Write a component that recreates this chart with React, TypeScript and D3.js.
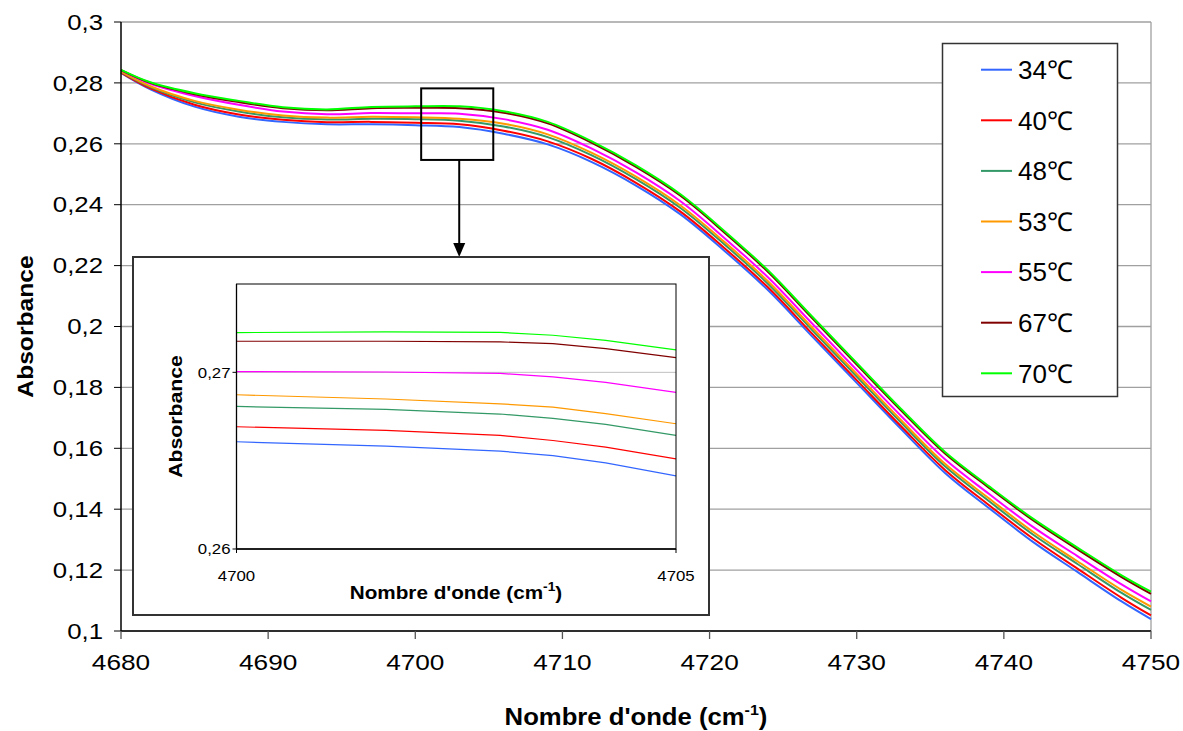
import React from "react";
import * as d3 from "d3";

// ---------- Data ----------
const WAVENUMBERS = [4680, 4682, 4685, 4688, 4691, 4694, 4697, 4700, 4703, 4706, 4709, 4712, 4715, 4718, 4721, 4724, 4727, 4730, 4733, 4736, 4739, 4742, 4745, 4748, 4750];

const ABS_34 = [0.2833, 0.2779, 0.2722, 0.2689, 0.2672, 0.2664, 0.2664, 0.2661, 0.2655, 0.2633, 0.2598, 0.2540, 0.2463, 0.2369, 0.2249, 0.2118, 0.1966, 0.1815, 0.1664, 0.1519, 0.1403, 0.1292, 0.1194, 0.1097, 0.1039];
const ABS_40 = [0.2834, 0.2782, 0.2728, 0.2696, 0.2679, 0.2671, 0.2672, 0.2669, 0.2664, 0.2643, 0.2608, 0.2550, 0.2472, 0.2378, 0.2258, 0.2127, 0.1975, 0.1824, 0.1673, 0.1529, 0.1413, 0.1303, 0.1205, 0.1109, 0.1051];
const ABS_48 = [0.2836, 0.2786, 0.2736, 0.2706, 0.2687, 0.2680, 0.2682, 0.2681, 0.2676, 0.2657, 0.2622, 0.2562, 0.2484, 0.2390, 0.2270, 0.2139, 0.1987, 0.1836, 0.1685, 0.1541, 0.1426, 0.1316, 0.1220, 0.1125, 0.1069];
const ABS_53 = [0.2837, 0.2789, 0.2741, 0.2712, 0.2693, 0.2686, 0.2689, 0.2687, 0.2682, 0.2666, 0.2631, 0.2570, 0.2492, 0.2398, 0.2278, 0.2147, 0.1995, 0.1844, 0.1693, 0.1549, 0.1435, 0.1325, 0.1229, 0.1135, 0.1080];
const ABS_55 = [0.2841, 0.2797, 0.2757, 0.2728, 0.2706, 0.2697, 0.2701, 0.2700, 0.2699, 0.2681, 0.2646, 0.2584, 0.2506, 0.2412, 0.2291, 0.2160, 0.2008, 0.1857, 0.1707, 0.1564, 0.1450, 0.1341, 0.1246, 0.1153, 0.1097];
const ABS_67 = [0.2842, 0.2800, 0.2763, 0.2737, 0.2717, 0.2710, 0.2717, 0.2718, 0.2717, 0.2702, 0.2667, 0.2603, 0.2524, 0.2430, 0.2309, 0.2178, 0.2026, 0.1875, 0.1725, 0.1583, 0.1470, 0.1363, 0.1268, 0.1177, 0.1122];
const ABS_70 = [0.2843, 0.2802, 0.2766, 0.2741, 0.2720, 0.2713, 0.2721, 0.2723, 0.2723, 0.2707, 0.2672, 0.2608, 0.2529, 0.2435, 0.2314, 0.2183, 0.2031, 0.1880, 0.1730, 0.1588, 0.1475, 0.1368, 0.1274, 0.1183, 0.1129];

const INSET_X = [4700, 4701.7, 4703, 4703.6, 4704.2, 4705];
const INSET_34 = [0.26607, 0.26582, 0.26554, 0.26529, 0.26488, 0.26414];
const INSET_40 = [0.26692, 0.26671, 0.26643, 0.26614, 0.26577, 0.26510];
const INSET_48 = [0.26807, 0.26790, 0.26764, 0.26739, 0.26705, 0.26643];
const INSET_53 = [0.26873, 0.26849, 0.26822, 0.26803, 0.26766, 0.26709];
const INSET_55 = [0.27004, 0.27002, 0.26994, 0.26974, 0.26943, 0.26887];
const INSET_67 = [0.27176, 0.27176, 0.27172, 0.27163, 0.27134, 0.27083];
const INSET_70 = [0.27225, 0.27229, 0.27226, 0.27210, 0.27181, 0.27127];

const LABELS = ["34℃", "40℃", "48℃", "53℃", "55℃", "67℃", "70℃"];
const COLORS = ["#3366FF", "#FF0000", "#339966", "#FF9900", "#FF00FF", "#800000", "#00FF00"];

const Y_TICKS = [0.1, 0.12, 0.14, 0.16, 0.18, 0.2, 0.22, 0.24, 0.26, 0.28, 0.3];
const X_TICKS = [4680, 4690, 4700, 4710, 4720, 4730, 4740, 4750];
const INSET_Y_TICKS = [0.26, 0.27];
const INSET_X_TICKS = [4700, 4705];

// zoom rectangle annotation (data coords of main chart)
const ZOOM_BOX_X = [4700.4, 4705.3];
const ZOOM_BOX_Y = [0.2547, 0.2782];

const MAIN_SERIES = [ABS_34, ABS_40, ABS_48, ABS_53, ABS_55, ABS_67, ABS_70];
const INSET_SERIES = [INSET_34, INSET_40, INSET_48, INSET_53, INSET_55, INSET_67, INSET_70];

const FONT = "'Liberation Sans', Arial, Helvetica, sans-serif";
const fmt = (v: number) => String(+v.toFixed(4)).replace(".", ",");

type TP = {
  x: number;
  y: number;
  size: number;
  sx?: number;
  rot?: number;
  anchor?: "start" | "middle" | "end";
  bold?: boolean;
  dy?: string;
  children: React.ReactNode;
};
function T({ x, y, size, sx = 1, rot = 0, anchor = "start", bold = false, dy, children }: TP) {
  return (
    <text
      transform={`translate(${x},${y}) rotate(${rot}) scale(${sx},1)`}
      fontSize={size}
      textAnchor={anchor}
      fontWeight={bold ? "bold" : "normal"}
      dy={dy}
    >
      {children}
    </text>
  );
}

export default function App() {
  const W = 1183, H = 731;
  const x = d3.scaleLinear().domain([4680, 4750]).range([121, 1151]);
  const y = d3.scaleLinear().domain([0.1, 0.3]).range([631, 22]);

  const ix = d3.scaleLinear().domain([4700, 4705]).range([236.5, 676]);
  const iy = d3.scaleLinear().domain([0.26, 0.275]).range([549, 284]);

  const line = d3
    .line<[number, number]>()
    .x((d) => x(d[0]))
    .y((d) => y(d[1]))
    .curve(d3.curveCatmullRom.alpha(0.5));

  const iline = d3
    .line<[number, number]>()
    .x((d) => ix(d[0]))
    .y((d) => iy(d[1]))
    .curve(d3.curveLinear);

  const zx0 = x(ZOOM_BOX_X[0]), zx1 = x(ZOOM_BOX_X[1]);
  const zy0 = y(ZOOM_BOX_Y[1]), zy1 = y(ZOOM_BOX_Y[0]);
  const arrowX = (zx0 + zx1) / 2 + 2;

  const insetBox = { x0: 133, y0: 257, x1: 709, y1: 615 };

  return (
    <svg
      width={W}
      height={H}
      style={{ position: "absolute", left: 0, top: 0, background: "#fff" }}
      fontFamily={FONT}
    >
      <rect x={0} y={0} width={W} height={H} fill="#fff" />
      {/* gridlines */}
      {Y_TICKS.map((t) => (
        <line key={"g" + t} x1={x(4680)} x2={x(4750)} y1={y(t)} y2={y(t)} stroke="#a0a0a0" strokeWidth={1.3} />
      ))}
      {/* right border */}
      <line x1={x(4750)} x2={x(4750)} y1={y(0.3)} y2={y(0.1)} stroke="#a0a0a0" strokeWidth={1.3} />

      {/* series */}
      {MAIN_SERIES.map((vals, i) => (
        <path
          key={"s" + i}
          d={line(WAVENUMBERS.map((w, j) => [w, vals[j]] as [number, number])) || ""}
          fill="none"
          stroke={COLORS[i]}
          strokeWidth={2}
        />
      ))}

      {/* axes */}
      <line x1={x(4680)} x2={x(4680)} y1={y(0.3)} y2={y(0.1)} stroke="#000" strokeWidth={1.5} />
      <line x1={x(4680)} x2={x(4750)} y1={y(0.1)} y2={y(0.1)} stroke="#000" strokeWidth={1.5} />
      {Y_TICKS.map((t) => (
        <g key={"yt" + t}>
          <line x1={x(4680) - 7} x2={x(4680)} y1={y(t)} y2={y(t)} stroke="#000" strokeWidth={1} />
          <T x={x(4680) - 18} y={y(t)} dy="0.36em" anchor="end" size={21.5} sx={1.2}>
            {fmt(t)}
          </T>
        </g>
      ))}
      {X_TICKS.map((t) => (
        <g key={"xt" + t}>
          <line x1={x(t)} x2={x(t)} y1={y(0.1)} y2={y(0.1) + 8} stroke="#555" strokeWidth={1.3} />
          <T x={x(t)} y={670} anchor="middle" size={21.5} sx={1.22}>
            {t}
          </T>
        </g>
      ))}
      <T x={636} y={725} anchor="middle" size={24} sx={1.07} bold>
        Nombre d'onde (cm
        <tspan dy={-10} fontSize={15}>-1</tspan>
        <tspan dy={10}>)</tspan>
      </T>
      <T x={33} y={(y(0.3) + y(0.1)) / 2} rot={-90} anchor="middle" size={22} sx={1.12} bold>
        Absorbance
      </T>

      {/* zoom annotation */}
      <rect x={zx0} y={zy0} width={zx1 - zx0} height={zy1 - zy0} fill="none" stroke="#000" strokeWidth={2} />
      <line x1={arrowX} x2={arrowX} y1={zy1} y2={insetBox.y0 - 12} stroke="#000" strokeWidth={2} />
      <path
        d={`M${arrowX - 6},${insetBox.y0 - 14} L${arrowX + 6},${insetBox.y0 - 14} L${arrowX},${insetBox.y0} Z`}
        fill="#000"
      />

      {/* inset */}
      <rect
        x={insetBox.x0}
        y={insetBox.y0}
        width={insetBox.x1 - insetBox.x0}
        height={insetBox.y1 - insetBox.y0}
        fill="#fff"
        stroke="#333"
        strokeWidth={2}
      />
      <defs>
        <clipPath id="insetClip">
          <rect x={ix(4700)} y={iy(0.275)} width={ix(4705) - ix(4700)} height={iy(0.26) - iy(0.275)} />
        </clipPath>
      </defs>
      <line x1={ix(4700)} x2={ix(4705)} y1={iy(0.27)} y2={iy(0.27)} stroke="#c0c0c0" strokeWidth={1} />
      <g clipPath="url(#insetClip)">
        {INSET_SERIES.map((vals, i) => (
          <path
            key={"is" + i}
            d={iline(INSET_X.map((w, j) => [w, vals[j]] as [number, number])) || ""}
            fill="none"
            stroke={COLORS[i]}
            strokeWidth={1.2}
          />
        ))}
      </g>
      <rect
        x={ix(4700)}
        y={iy(0.275)}
        width={ix(4705) - ix(4700)}
        height={iy(0.26) - iy(0.275)}
        fill="none"
        stroke="#000"
        strokeWidth={1}
      />
      <line x1={ix(4700)} x2={ix(4700)} y1={iy(0.275)} y2={iy(0.26)} stroke="#000" strokeWidth={1.3} />
      <line x1={ix(4700)} x2={ix(4705)} y1={iy(0.26)} y2={iy(0.26)} stroke="#000" strokeWidth={1.3} />
      {INSET_Y_TICKS.map((t) => (
        <g key={"iyt" + t}>
          <line x1={ix(4700) - 4} x2={ix(4700)} y1={iy(t)} y2={iy(t)} stroke="#000" />
          <T x={ix(4700) - 6} y={iy(t)} dy="0.36em" anchor="end" size={15} sx={1.12}>
            {fmt(t)}
          </T>
        </g>
      ))}
      {INSET_X_TICKS.map((t) => (
        <g key={"ixt" + t}>
          <line x1={ix(t)} x2={ix(t)} y1={iy(0.26)} y2={iy(0.26) + 4} stroke="#000" />
          <T x={ix(t)} y={581} anchor="middle" size={15} sx={1.12}>
            {t}
          </T>
        </g>
      ))}
      <T x={456} y={599} anchor="middle" size={18} sx={1.15} bold>
        Nombre d'onde (cm
        <tspan dy={-8} fontSize={12}>-1</tspan>
        <tspan dy={8}>)</tspan>
      </T>
      <T x={182} y={(iy(0.275) + iy(0.26)) / 2} rot={-90} anchor="middle" size={18} sx={1.18} bold>
        Absorbance
      </T>

      {/* legend */}
      <rect x={942.5} y={43.5} width={175} height={353} fill="#fff" stroke="#333" strokeWidth={1.5} />
      {LABELS.map((lab, i) => {
        const ly = 69.7 + i * 50.6;
        return (
          <g key={"lg" + i}>
            <line x1={981} x2={1012} y1={ly} y2={ly} stroke={COLORS[i]} strokeWidth={2} />
            <T x={1018} y={ly} dy="0.36em" size={26}>
              {lab}
            </T>
          </g>
        );
      })}
    </svg>
  );
}
